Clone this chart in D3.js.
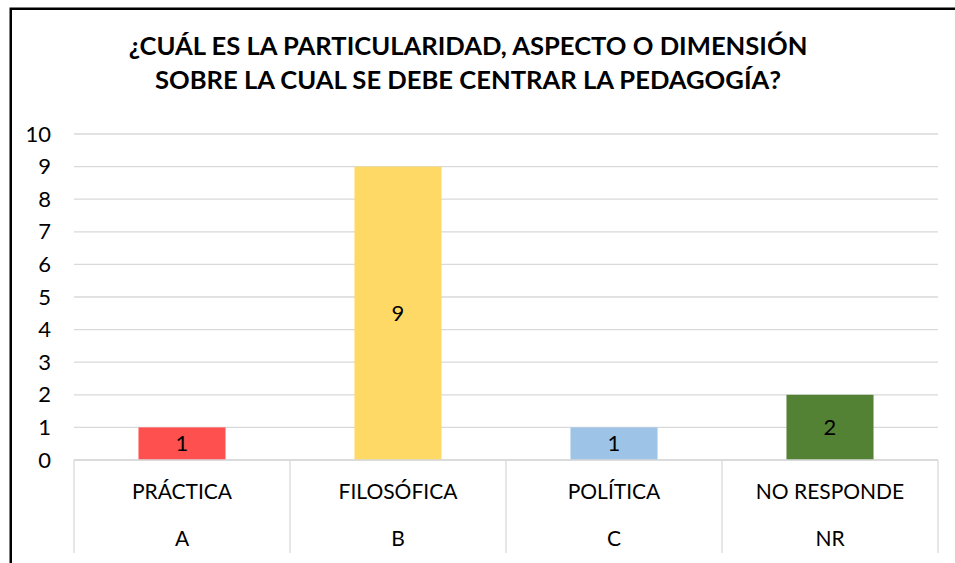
<!DOCTYPE html>
<html>
<head>
<meta charset="utf-8">
<script src="https://cdn.jsdelivr.net/npm/d3@7"></script>
<style>
  html, body { margin: 0; padding: 0; background: #fff; }
  svg { display: block; font-family: Lato, "Open Sans", sans-serif; }
</style>
</head>
<body>
<div id="chart"></div>
<script>
// datos del gráfico
const titleLines = [
  '¿CUÁL ES LA PARTICULARIDAD, ASPECTO O DIMENSIÓN',
  'SOBRE LA CUAL SE DEBE CENTRAR LA PEDAGOGÍA?'
];
const categories = ['PRÁCTICA', 'FILOSÓFICA', 'POLÍTICA', 'NO RESPONDE'];
const codes = ['A', 'B', 'C', 'NR'];
const values = [1, 9, 1, 2];
const barColors = ['#FF5050', '#FFD966', '#9DC3E6', '#548235'];
const yTicks = [0, 1, 2, 3, 4, 5, 6, 7, 8, 9, 10];

const width = 955;
const height = 563;
const margin = { left: 74, right: 17, top: 134, bottom: 103 };

const svg = d3.select('#chart').append('svg')
  .attr('width', width)
  .attr('height', height);

// marco
svg.append('rect')
  .attr('x', 10.75)
  .attr('y', 8.75)
  .attr('width', width + 20)
  .attr('height', height + 20)
  .attr('fill', 'none')
  .attr('stroke', '#000')
  .attr('stroke-width', 2.5);

// título
svg.append('text')
  .attr('x', 468)
  .attr('text-anchor', 'middle')
  .attr('font-weight', 'bold')
  .attr('font-size', 25.6)
  .attr('fill', '#000')
  .selectAll('tspan')
  .data(titleLines)
  .enter()
  .append('tspan')
  .attr('x', 468)
  .attr('y', (d, i) => 55 + i * 33.5)
  .text(d => d);

const x = d3.scaleBand()
  .domain(categories)
  .range([margin.left, width - margin.right])
  .paddingInner(0)
  .paddingOuter(0);

const y = d3.scaleLinear()
  .domain([0, 10])
  .range([height - margin.bottom, margin.top]);

// líneas de cuadrícula
svg.append('g')
  .attr('class', 'grid')
  .selectAll('line')
  .data(yTicks)
  .enter()
  .append('line')
  .attr('x1', margin.left)
  .attr('x2', width - margin.right)
  .attr('y1', d => y(d))
  .attr('y2', d => y(d))
  .attr('stroke', '#D9D9D9')
  .attr('stroke-width', 1.3);

// eje Y
const yAxis = svg.append('g')
  .attr('transform', `translate(${margin.left},0)`)
  .call(d3.axisLeft(y).tickValues(yTicks).tickSize(0).tickPadding(23));
yAxis.select('.domain').remove();
yAxis.selectAll('text')
  .attr('font-family', 'Lato, sans-serif')
  .attr('font-size', 22)
  .attr('fill', '#000');

// barras
const barW = x.bandwidth() * 0.403;
svg.selectAll('.bar')
  .data(values)
  .enter()
  .append('rect')
  .attr('class', 'bar')
  .attr('x', (d, i) => x(categories[i]) + (x.bandwidth() - barW) / 2)
  .attr('y', d => y(d))
  .attr('width', barW)
  .attr('height', d => y(0) - y(d))
  .attr('fill', (d, i) => barColors[i]);

// etiquetas de datos
svg.selectAll('.bar-label')
  .data(values)
  .enter()
  .append('text')
  .attr('class', 'bar-label')
  .attr('x', (d, i) => x(categories[i]) + x.bandwidth() / 2)
  .attr('y', d => (y(d) + y(0)) / 2)
  .attr('dy', '0.35em')
  .attr('text-anchor', 'middle')
  .attr('font-size', 22)
  .attr('fill', '#000')
  .text(d => d);

// eje X con dos niveles de categorías
const axisTop = y(0);
const axisBottom = 553;
const xAxis = svg.append('g');
xAxis.append('line')
  .attr('x1', margin.left)
  .attr('x2', width - margin.right)
  .attr('y1', axisTop)
  .attr('y2', axisTop)
  .attr('stroke', '#D9D9D9')
  .attr('stroke-width', 1.3);
xAxis.selectAll('.sep')
  .data(categories.concat(['end']))
  .enter()
  .append('line')
  .attr('class', 'sep')
  .attr('x1', (d, i) => i < categories.length ? x(d) : x.range()[1])
  .attr('x2', (d, i) => i < categories.length ? x(d) : x.range()[1])
  .attr('y1', axisTop)
  .attr('y2', axisBottom)
  .attr('stroke', '#D9D9D9')
  .attr('stroke-width', 1.3);

xAxis.selectAll('.cat')
  .data(categories)
  .enter()
  .append('text')
  .attr('class', 'cat')
  .attr('x', d => x(d) + x.bandwidth() / 2)
  .attr('y', 499)
  .attr('text-anchor', 'middle')
  .attr('font-size', 21)
  .attr('fill', '#000')
  .text(d => d);

xAxis.selectAll('.code')
  .data(codes)
  .enter()
  .append('text')
  .attr('class', 'code')
  .attr('x', (d, i) => x(categories[i]) + x.bandwidth() / 2)
  .attr('y', 546)
  .attr('text-anchor', 'middle')
  .attr('font-size', 21)
  .attr('fill', '#000')
  .text(d => d);
</script>
</body>
</html>
